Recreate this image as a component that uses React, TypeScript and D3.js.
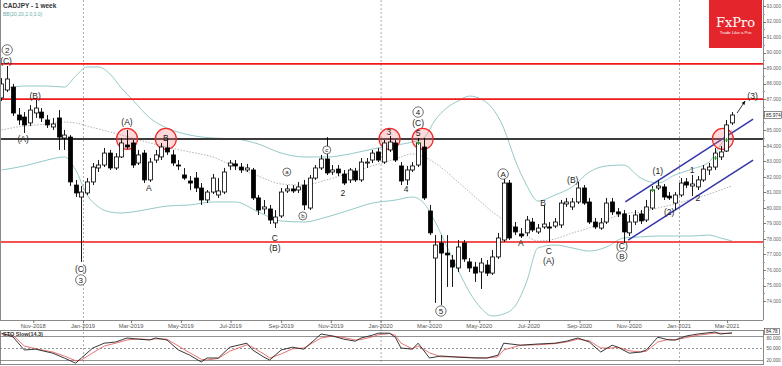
import * as d3 from 'd3';
import { useEffect, useRef } from 'react';

const W = 782;
const H = 366;

// weekly candles, the first one opens Sun 23 Sep 2018
const firstWeek = new Date(2018, 8, 23);

const opens = [
  87.08, 87.59, 87.78, 85.98, 85.85, 85.47, 86.11, 86.17, 85.66, 85.21,
  85.79, 84.5, 84.56, 81.47, 80.7, 80.96, 81.67, 82.57, 82.76, 83.53,
  82.57, 83.28, 84.05, 84.18, 82.89, 83.53, 81.8, 83.08, 83.28, 83.86,
  83.41, 82.76, 82.12, 81.73, 81.92, 81.28, 80.51, 81.02, 80.83, 81.02,
  82.7, 82.83, 82.63, 82.44, 82.44, 80.64, 79.93, 79.93, 79.03, 79.48,
  81.09, 81.22, 81.15, 81.47, 79.99, 81.92, 82.57, 83.15, 82.31, 82.5,
  82.18, 81.8, 82.37, 81.8, 82.89, 83.08, 83.6, 82.95, 83.73, 84.18,
  82.7, 81.8, 82.44, 82.76, 83.92, 79.8, 76.77, 77.74, 77.09, 76.64,
  76.13, 77.74, 76.52, 76.19, 75.87, 76.32, 75.8, 76.84, 77.93, 81.6,
  78.77, 78.32, 78.39, 79.09, 78.45, 78.77, 78.77, 78.83, 78.9, 80.25,
  80.06, 80.38, 81.28, 80.38, 79.09, 78.7, 79.09, 80.38, 79.74, 79.61,
  78.39, 79.09, 79.61, 79.22, 79.99, 81.28, 81.35, 80.76, 80.31, 80.83,
  81.67, 81.41, 81.35, 81.8, 82.44, 82.63, 83.28, 83.66, 85.47,
];
const highs = [
  88.36, 89.14, 87.98, 86.43, 86.17, 86.62, 86.95, 86.43, 85.98, 85.79,
  86.3, 85.02, 84.69, 81.8, 81.41, 81.92, 82.89, 83.08, 83.86, 83.73,
  83.53, 84.5, 85.02, 84.37, 83.73, 83.73, 83.21, 83.73, 84.18, 84.5,
  83.73, 83.08, 82.57, 82.05, 82.31, 81.6, 81.15, 82.18, 81.92, 82.57,
  83.08, 83.08, 82.89, 82.83, 82.57, 80.83, 80.51, 80.19, 79.86, 81.28,
  81.47, 81.47, 81.67, 81.8, 82.12, 82.76, 83.41, 84.56, 82.76, 82.76,
  82.44, 82.57, 82.57, 83.21, 83.21, 83.73, 83.86, 84.37, 84.63, 84.37,
  82.95, 82.7, 82.95, 84.5, 84.5, 80.19, 78.25, 78.25, 78.25, 76.97,
  77.93, 77.93, 76.77, 76.52, 76.77, 76.64, 77.29, 78.39, 81.99, 81.8,
  79.09, 78.7, 79.48, 79.35, 78.96, 80.19, 79.09, 79.35, 80.51, 80.64,
  80.64, 81.67, 81.47, 80.64, 79.35, 79.35, 80.64, 80.64, 79.99, 79.86,
  79.54, 79.86, 79.86, 80.51, 81.41, 81.8, 81.54, 81.02, 81.02, 81.92,
  81.92, 82.12, 82.05, 82.76, 82.89, 83.86, 83.98, 85.66, 86.17,
];
const lows = [
  86.88, 87.46, 85.92, 85.34, 84.82, 85.27, 85.79, 85.53, 85.14, 85.02,
  83.73, 83.73, 81.41, 80.7, 76.52, 80.83, 81.47, 82.31, 82.63, 82.44,
  82.44, 83.21, 83.79, 82.57, 82.76, 81.6, 81.67, 82.89, 83.08, 83.41,
  82.7, 82.44, 81.8, 81.15, 81.02, 80.19, 80.31, 80.89, 80.64, 80.89,
  82.44, 82.44, 82.25, 82.31, 80.51, 79.54, 79.61, 78.96, 78.7, 79.35,
  80.96, 80.96, 80.96, 79.86, 79.86, 81.8, 82.44, 82.12, 82.12, 82.05,
  81.47, 81.6, 81.67, 81.67, 82.57, 82.89, 82.95, 82.83, 83.6, 82.95,
  81.47, 81.47, 82.31, 82.63, 80.51, 78.25, 73.88, 73.75, 74.91, 74.91,
  75.87, 76.52, 75.87, 75.23, 74.78, 75.61, 75.68, 76.71, 77.8, 77.93,
  78.25, 78.06, 78.19, 78.45, 78.32, 78.64, 77.8, 78.7, 78.7, 80.06,
  79.86, 80.25, 80.19, 78.96, 78.64, 78.58, 78.96, 79.54, 79.41, 77.74,
  78.19, 78.9, 78.96, 79.09, 79.86, 81.15, 80.51, 80.51, 79.86, 80.7,
  81.28, 80.76, 81.15, 81.67, 82.12, 82.44, 83.08, 83.6, 85.34,
];
const closes = [
  87.98, 88.3, 86.11, 85.66, 85.34, 86.3, 86.43, 85.79, 85.34, 85.4,
  84.56, 84.69, 81.67, 80.96, 81.02, 81.67, 82.63, 82.76, 83.53, 82.57,
  83.28, 84.18, 83.92, 82.76, 83.41, 81.8, 82.95, 83.41, 83.92, 83.6,
  82.89, 82.7, 81.92, 81.6, 81.28, 80.51, 81.02, 81.92, 81.09, 82.31,
  82.89, 82.7, 82.44, 82.57, 80.64, 79.86, 80.06, 79.22, 79.41, 81.02,
  81.22, 81.09, 81.35, 80.19, 81.92, 82.57, 83.15, 82.25, 82.44, 82.25,
  81.6, 82.44, 81.8, 82.95, 82.95, 83.53, 83.08, 84.18, 84.24, 83.08,
  81.73, 82.44, 82.7, 84.18, 80.64, 78.39, 77.61, 77.09, 76.97, 76.19,
  77.48, 76.71, 76.13, 75.8, 76.45, 75.8, 76.84, 78.06, 81.6, 78.06,
  78.45, 78.19, 79.22, 78.58, 78.7, 78.96, 78.7, 79.09, 80.31, 80.38,
  80.38, 81.28, 80.31, 79.09, 78.77, 79.03, 80.31, 79.74, 79.61, 78.45,
  79.09, 79.54, 79.16, 80.06, 81.15, 81.41, 80.7, 80.64, 80.83, 81.6,
  81.47, 81.54, 81.8, 82.5, 82.63, 83.53, 83.6, 85.34, 85.98,
];

// Bollinger band readings, by candle index
const bandIdx = [
  0, 4, 8, 11, 13, 15, 17, 19, 21, 23, 26, 29, 33, 37, 41, 45, 49, 53, 57, 61,
  65, 69, 72, 74, 76, 78, 80, 82, 84, 86, 88, 90, 92, 94, 97, 100, 103, 106, 109, 112,
  115, 118, 121, 124, 126, 128,
];
const bandUpper = [
  87.59, 87.85, 87.85, 87.78, 88.49, 89.07, 89.07, 88.62, 87.72, 86.95,
  85.79, 85.14, 84.69, 84.5, 84.44, 84.11, 83.53, 83.28, 83.28, 83.47,
  83.79, 84.04, 84.24, 84.5, 85.66, 86.43, 86.88, 87.2, 87.01, 86.43,
  85.14, 83.08, 81.47, 80.44, 80.83, 81.35, 82.31, 82.7, 82.76, 81.92,
  81.6, 82.12, 82.5, 82.96, 84.05, 85.02,
];
const bandMiddle = [
  85.02, 85.27, 85.4, 85.53, 85.47, 85.27, 85.08, 84.89, 84.69, 84.5,
  84.18, 83.92, 83.6, 83.28, 82.63, 82.05, 81.54, 81.47, 81.8, 82.25,
  82.7, 83.15, 83.47, 83.28, 82.89, 82.31, 81.67, 81.02, 80.38, 79.74,
  79.22, 78.71, 78.19, 77.87, 78.0, 78.38, 78.71, 79.22, 79.61, 79.74,
  79.99, 80.25, 80.57, 80.89, 81.15, 81.41,
];
const bandLower = [
  82.44, 82.7, 83.08, 83.28, 82.44, 80.83, 80.06, 79.74, 79.67, 79.74,
  79.93, 80.12, 80.19, 80.38, 80.38, 79.74, 79.16, 79.09, 79.41, 79.86,
  80.31, 80.5, 80.7, 80.31, 79.09, 77.55, 76.0, 74.58, 73.55, 73.04,
  73.17, 73.68, 75.23, 77.42, 77.61, 77.42, 77.22, 77.48, 78.06, 78.13,
  78.19, 78.19, 78.19, 78.25, 78.06, 77.87,
];

// STO Slow(14,3) readings
const stochIdx = [
  0, 2, 4, 6, 9, 11, 13, 14, 16, 18, 20, 22, 24, 26, 27, 29, 31, 33, 35, 36,
  38, 40, 43, 44, 46, 47, 49, 51, 53, 56, 58, 60, 62, 63, 65, 66, 68, 69, 70, 72,
  73, 75, 77, 80, 83, 85, 87, 88, 91, 94, 97, 99, 101, 103, 105, 107, 108, 110, 112, 113,
  115, 117, 118, 120, 122, 125, 126, 128,
];
const stochK = [
  87, 78, 45, 47, 37, 25, 12, 25, 50, 62, 65, 75, 72, 70, 75, 70, 45, 32, 15, 25,
  25, 52, 62, 45, 27, 20, 45, 52, 47, 85, 80, 72, 67, 75, 82, 87, 87, 77, 50, 47,
  62, 25, 30, 27, 25, 25, 32, 62, 57, 60, 62, 67, 75, 65, 40, 57, 52, 37, 40, 45,
  77, 70, 70, 80, 85, 90, 85, 88,
];
const stochD = [
  85, 82, 55, 48, 40, 30, 18, 20, 38, 55, 62, 70, 73, 71, 73, 72, 55, 38, 22, 20,
  24, 42, 58, 52, 35, 25, 35, 48, 50, 75, 80, 76, 70, 71, 78, 83, 86, 82, 62, 48,
  55, 38, 28, 28, 26, 25, 28, 45, 57, 58, 61, 65, 72, 68, 50, 50, 52, 43, 40, 42,
  65, 72, 70, 76, 82, 87, 87, 86,
];
const stochLevels = [80, 50, 20];

// drawn objects
const redLevels = [89.27, 87.0, 77.8];
const blackLevel = 84.44;
const channelUpper = [[109.3, 80.38], [131.7, 85.72]];
const channelLower = [[109.8, 77.93], [131.7, 83.08]];
const circleIdx = [22, 28.8, 68, 73.8, 126.4];
const greenMarks = [[73, 84.18], [114, 81.15], [125, 83.21], [127, 84.37]];
const arrowPts = [[128.9, 86.11], [130.3, 86.88]];

// wave labels: text, candle index, price, circled
const waveLabels: [string, number, number, boolean][] = [
  ['2', 1, 90.17, true], ['(C)', 0.8, 89.46, false], ['(B)', 5.9, 87.2, false],
  ['(A)', 3.8, 84.44, false], ['(A)', 22, 85.53, false], ['B', 28.8, 84.5, false],
  ['A', 25.8, 81.28, false], ['(C)', 13.9, 76.07, false], ['3', 13.9, 75.36, true],
  ['C', 47.9, 78.06, false], ['(B)', 47.9, 77.42, false], ['a', 50, 82.31, true],
  ['b', 52.8, 79.48, true], ['c', 57, 83.73, true], ['2', 59.8, 80.96, false],
  ['3', 67.9, 84.89, false], ['4', 70.9, 81.22, false], ['4', 73, 86.17, true],
  ['(C)', 73, 85.47, false], ['5', 73, 84.82, false], ['5', 77, 73.36, true],
  ['A', 87.9, 82.18, true], ['A', 91, 77.74, false], ['B', 94.9, 80.31, false],
  ['C', 95.9, 77.22, false], ['(A)', 95.9, 76.58, false], ['(B)', 100.1, 81.8, false],
  ['(C)', 108.7, 77.55, false], ['B', 108.7, 76.9, true], ['(1)', 115, 82.37, false],
  ['(2)', 117, 79.74, false], ['1', 121, 82.44, false], ['2', 122, 80.64, false],
  ['(3)', 131.6, 87.2, false],
];

const priceTicks = d3.range(74, 94);
const font = 'Liberation Sans, Arial, sans-serif';

export default function App() {
  const ref = useRef<SVGSVGElement>(null);

  useEffect(() => {
    const svg = d3.select(ref.current);
    svg.selectAll('*').remove();

    const plotRight = 763;
    const plotBottom = 320;
    const stTop = 330;
    const stBottom = 364;

    const x = d3
      .scaleTime()
      .domain([new Date(2019, 0, 1), new Date(2021, 0, 1)])
      .range([83, 679]);
    const xi = (i: number) => x(new Date(+firstWeek + i * 7 * 86400000));
    const y = d3.scaleLinear().domain([72.78, 93.386]).range([plotBottom, 0]);
    const ys = d3.scaleLinear().domain([0, 100]).range([368, 328]);

    const defs = svg.append('defs');
    defs.append('clipPath').attr('id', 'mainClip')
      .append('rect').attr('x', 0).attr('y', 0).attr('width', plotRight).attr('height', plotBottom);
    defs.append('clipPath').attr('id', 'stClip')
      .append('rect').attr('x', 0).attr('y', stTop).attr('width', plotRight).attr('height', stBottom - stTop);

    svg.append('rect').attr('width', W).attr('height', H).attr('fill', '#fff');

    // year separators
    const years = [new Date(2019, 0, 1), new Date(2020, 0, 1), new Date(2021, 0, 1)];
    svg.append('g').selectAll('line').data(years).join('line')
      .attr('x1', (d) => x(d) + 0.5).attr('x2', (d) => x(d) + 0.5)
      .attr('y1', 0).attr('y2', stBottom)
      .attr('stroke', '#9a9a9a').attr('stroke-dasharray', '2,2').attr('stroke-width', 0.8);

    const main = svg.append('g').attr('clip-path', 'url(#mainClip)');

    // bollinger bands
    const bandLine = (vals: number[]) =>
      d3.line<number>().x((_, k) => xi(bandIdx[k])).y((v) => y(v)).curve(d3.curveMonotoneX)(vals);
    main.append('path').attr('d', bandLine(bandUpper)).attr('fill', 'none')
      .attr('stroke', '#95c9c9').attr('stroke-width', 1);
    main.append('path').attr('d', bandLine(bandLower)).attr('fill', 'none')
      .attr('stroke', '#95c9c9').attr('stroke-width', 1);
    main.append('path').attr('d', bandLine(bandMiddle)).attr('fill', 'none')
      .attr('stroke', '#a0a0a0').attr('stroke-width', 0.8).attr('stroke-dasharray', '1.5,1.5');

    // horizontal levels
    main.selectAll('line.red').data(redLevels).join('line').attr('class', 'red')
      .attr('x1', 0).attr('x2', plotRight).attr('y1', (d) => y(d)).attr('y2', (d) => y(d))
      .attr('stroke', '#f01818').attr('stroke-width', 1.6);
    main.append('line').attr('x1', 0).attr('x2', plotRight)
      .attr('y1', y(blackLevel)).attr('y2', y(blackLevel))
      .attr('stroke', '#3c3c3c').attr('stroke-width', 2);

    // channel
    [channelUpper, channelLower].forEach((pts) => {
      main.append('line')
        .attr('x1', xi(pts[0][0])).attr('y1', y(pts[0][1]))
        .attr('x2', xi(pts[1][0])).attr('y2', y(pts[1][1]))
        .attr('stroke', '#3535a8').attr('stroke-width', 1.5);
    });

    // red circles
    main.selectAll('circle.mark').data(circleIdx).join('circle').attr('class', 'mark')
      .attr('cx', (d) => xi(d)).attr('cy', y(blackLevel)).attr('r', 10.5)
      .attr('fill', 'rgba(255,120,120,0.28)').attr('stroke', '#ee2a2a').attr('stroke-width', 1.2);

    // candles
    const idx = d3.range(opens.length);
    const candles = main.append('g');
    candles.selectAll('line').data(idx).join('line')
      .attr('x1', (i) => Math.round(xi(i)) + 0.5).attr('x2', (i) => Math.round(xi(i)) + 0.5)
      .attr('y1', (i) => y(highs[i])).attr('y2', (i) => y(lows[i]))
      .attr('stroke', '#000').attr('stroke-width', 0.9);
    candles.selectAll('rect').data(idx).join('rect')
      .attr('x', (i) => Math.round(xi(i)) - 1.5)
      .attr('width', 4)
      .attr('y', (i) => y(Math.max(opens[i], closes[i])))
      .attr('height', (i) => Math.max(1, Math.abs(y(opens[i]) - y(closes[i]))))
      .attr('fill', (i) => (closes[i] >= opens[i] ? '#fff' : '#000'))
      .attr('stroke', '#000').attr('stroke-width', 0.8);

    // green marks
    greenMarks.forEach(([i, p]) => {
      const cx = Math.round(xi(i)) + 0.5;
      main.append('path').attr('d', `M${cx - 2},${y(p)}H${cx + 2}M${cx},${y(p) - 2}V${y(p) + 2}`)
        .attr('stroke', '#1fa61f').attr('stroke-width', 1);
    });

    // arrow to (3)
    const ax1 = xi(arrowPts[0][0]);
    const ay1 = y(arrowPts[0][1]);
    const ax2 = xi(arrowPts[1][0]);
    const ay2 = y(arrowPts[1][1]);
    main.append('line').attr('x1', ax1).attr('y1', ay1).attr('x2', ax2).attr('y2', ay2)
      .attr('stroke', '#000').attr('stroke-width', 0.8);
    const ang = Math.atan2(ay2 - ay1, ax2 - ax1);
    const ah = 4;
    main.append('path')
      .attr('d', `M${ax2},${ay2}L${ax2 - ah * Math.cos(ang - 0.45)},${ay2 - ah * Math.sin(ang - 0.45)}L${ax2 - ah * Math.cos(ang + 0.45)},${ay2 - ah * Math.sin(ang + 0.45)}Z`)
      .attr('fill', '#000');

    // wave labels
    const lab = main.append('g').attr('font-family', font).attr('fill', '#222');
    waveLabels.forEach(([t, i, p, circled]) => {
      const cx = xi(i);
      const cy = y(p);
      const small = circled && /[a-c]/.test(t);
      if (circled) {
        lab.append('circle').attr('cx', cx).attr('cy', cy).attr('r', small ? 4 : 5.2)
          .attr('fill', '#fff').attr('stroke', '#333').attr('stroke-width', 0.7);
      }
      lab.append('text').attr('x', cx).attr('y', cy + (small ? 2 : 3))
        .attr('text-anchor', 'middle').attr('font-size', small ? 6 : circled ? 8 : 8.5)
        .attr('fill', '#222')
        .text(t);
    });

    // FxPro logo
    svg.append('rect').attr('x', 709).attr('y', 0).attr('width', 53).attr('height', 48).attr('fill', '#e4252b');
    svg.append('text').attr('x', 735.5).attr('y', 27).attr('text-anchor', 'middle')
      .attr('font-family', 'DejaVu Serif, Liberation Serif, serif').attr('font-size', 13)
      .attr('fill', '#fff').text('FxPro');
    svg.append('text').attr('x', 735.5).attr('y', 34).attr('text-anchor', 'middle')
      .attr('font-family', font).attr('font-size', 4.3).attr('fill', '#fff').text('Trade Like a Pro');

    // titles
    svg.append('text').attr('x', 3).attr('y', 8).attr('font-family', font).attr('font-size', 6.5)
      .attr('font-weight', 'bold').attr('fill', '#333').text('CADJPY - 1 week');
    svg.append('text').attr('x', 3).attr('y', 15.5).attr('font-family', font).attr('font-size', 5)
      .attr('fill', '#6aaeb0').text('BB(20,20,2.0,3.0)');

    // frames
    const frame = svg.append('g').attr('stroke', '#8a8a8a').attr('stroke-width', 1).attr('fill', 'none');
    frame.append('line').attr('x1', 0.5).attr('x2', 0.5).attr('y1', 0).attr('y2', plotBottom);
    frame.append('line').attr('x1', plotRight + 0.5).attr('x2', plotRight + 0.5).attr('y1', 0).attr('y2', plotBottom);
    frame.append('line').attr('x1', 0).attr('x2', plotRight).attr('y1', plotBottom + 0.5).attr('y2', plotBottom + 0.5);
    frame.append('rect').attr('x', 0.5).attr('y', stTop + 0.5).attr('width', plotRight).attr('height', stBottom - stTop);

    // price axis
    const axis = svg.append('g').attr('font-family', font).attr('font-size', 4.8).attr('fill', '#666');
    priceTicks.forEach((p) => {
      axis.append('line').attr('x1', plotRight).attr('x2', plotRight + 3)
        .attr('y1', Math.round(y(p)) + 0.5).attr('y2', Math.round(y(p)) + 0.5).attr('stroke', '#777');
      axis.append('line').attr('x1', plotRight).attr('x2', plotRight + 2)
        .attr('y1', Math.round(y(p + 0.5)) + 0.5).attr('y2', Math.round(y(p + 0.5)) + 0.5).attr('stroke', '#999');
      axis.append('text').attr('x', plotRight + 3.5).attr('y', y(p) + 1.8).text(d3.format('.3f')(p));
    });
    const last = closes[closes.length - 1];
    axis.append('rect').attr('x', plotRight + 1.5).attr('y', y(last) - 3.5).attr('width', 17).attr('height', 7)
      .attr('fill', '#fff').attr('stroke', '#444').attr('stroke-width', 0.6);
    axis.append('text').attr('x', plotRight + 3).attr('y', y(last) + 1.8).attr('fill', '#222').text('85.974');

    // date axis
    const months = d3.timeMonth.every(2)!.range(new Date(2018, 10, 1), new Date(2021, 3, 1));
    const dax = svg.append('g').attr('font-family', font).attr('font-size', 5.8).attr('fill', '#555');
    months.forEach((m) => {
      dax.append('line').attr('x1', x(m) + 0.5).attr('x2', x(m) + 0.5)
        .attr('y1', plotBottom).attr('y2', plotBottom + 3).attr('stroke', '#777');
      dax.append('text').attr('x', x(m)).attr('y', plotBottom + 7.5).attr('text-anchor', 'middle')
        .text(d3.timeFormat('%b-%Y')(m));
    });

    // stochastic panel
    const st = svg.append('g');
    stochLevels.forEach((v) => {
      st.append('line').attr('x1', 0).attr('x2', plotRight)
        .attr('y1', Math.round(ys(v)) + 0.5).attr('y2', Math.round(ys(v)) + 0.5)
        .attr('stroke', '#777').attr('stroke-width', 0.8)
        .attr('stroke-dasharray', v === 50 ? '2,2' : null);
      st.append('text').attr('x', plotRight + 3.5).attr('y', ys(v) + (v === 80 ? 3.5 : 1.8)).attr('font-family', font)
        .attr('font-size', 4.6).attr('fill', '#555').text(d3.format('.3f')(v));
    });
    const stLine = (vals: number[]) =>
      d3.line<number>().x((_, k) => xi(stochIdx[k])).y((v) => ys(v)).curve(d3.curveLinear)(vals);
    const stg = st.append('g').attr('clip-path', 'url(#stClip)');
    stg.append('path').attr('d', stLine(stochD)).attr('fill', 'none').attr('stroke', '#e05050').attr('stroke-width', 0.8);
    stg.append('path').attr('d', stLine(stochK)).attr('fill', 'none').attr('stroke', '#222').attr('stroke-width', 0.9);
    st.append('rect').attr('x', plotRight + 1.5).attr('y', 328.5).attr('width', 15).attr('height', 6)
      .attr('fill', '#fff').attr('stroke', '#444').attr('stroke-width', 0.6);
    st.append('text').attr('x', plotRight + 3).attr('y', 333.3).attr('font-family', font)
      .attr('font-size', 4.6).attr('fill', '#222').text('84.78');
    st.append('text').attr('x', 3).attr('y', 335.5).attr('font-family', font).attr('font-size', 5.5)
      .attr('font-weight', 'bold').attr('fill', '#333').text('STO Slow(14,3)');
  }, []);

  return (
    <svg
      ref={ref}
      width={W}
      height={H}
      style={{ position: 'absolute', left: 0, top: 0, background: '#fff' }}
    />
  );
}
